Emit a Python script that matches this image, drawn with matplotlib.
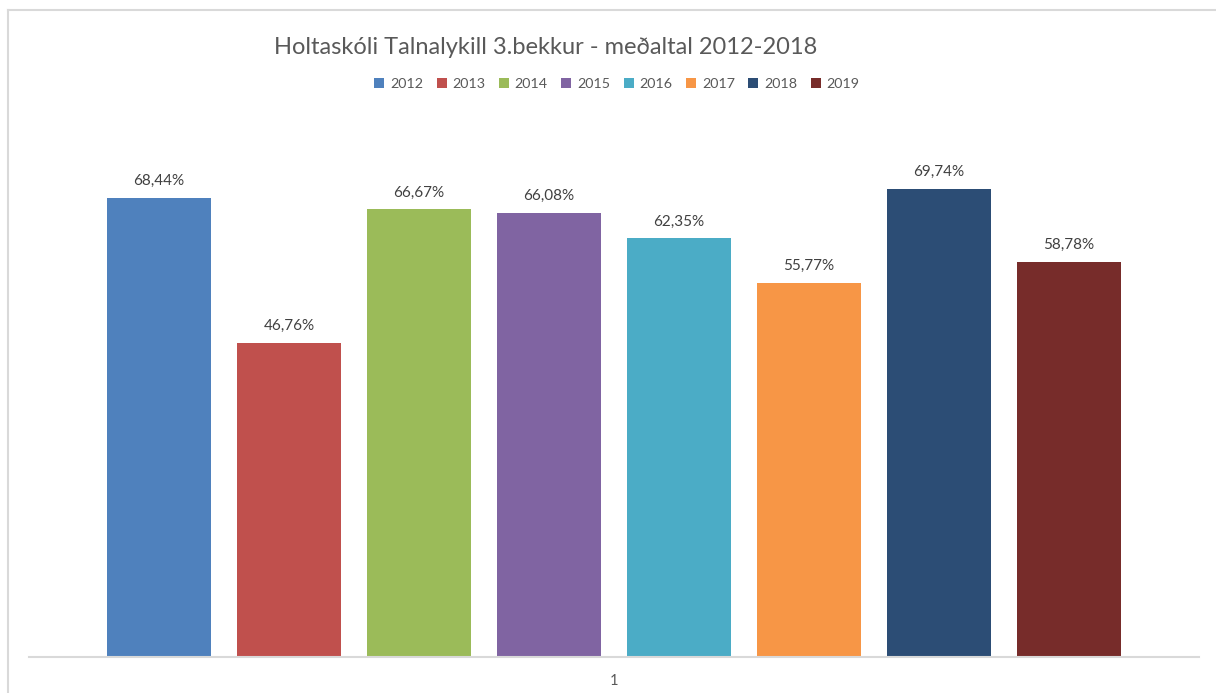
import matplotlib.pyplot as plt
from matplotlib.lines import Line2D

# Data
years = ['2012', '2013', '2014', '2015', '2016', '2017', '2018', '2019']
values = [68.44, 46.76, 66.67, 66.08, 62.35, 55.77, 69.74, 58.78]
colors = ['#4F81BD', '#C0504D', '#9BBB59', '#8064A2', '#4BACC6', '#F79646', '#2C4D75', '#772C2A']

plt.rcParams['font.family'] = ['Lato', 'DejaVu Sans']

W, H = 1216, 693
fig = plt.figure(figsize=(W / 100, H / 100), dpi=100)
ax = fig.add_axes([29 / W, (H - 657) / H, 1170 / W, (657 - 120) / H])

for i, (yr, v, c) in enumerate(zip(years, values, colors)):
    ax.bar(i, v, width=0.8, color=c, label=yr, zorder=2)
    ax.text(i, v + 1.5, f'{v:.2f}%'.replace('.', ','), ha='center', va='bottom',
            fontsize=11, color='#404040')

ax.set_xlim(-1.0, 8.0)
ax.set_ylim(0, 80)
ax.set_yticks([])
ax.set_xticks([3.5])
ax.set_xticklabels(['1'], fontsize=10.5, color='#595959')
ax.tick_params(axis='x', length=0, pad=12)
for s in ['top', 'right', 'left']:
    ax.spines[s].set_visible(False)
ax.spines['bottom'].set_color('#D9D9D9')
ax.spines['bottom'].set_linewidth(1.5)

fig.text(546 / W, 1 - 47 / H, 'Holtaskóli Talnalykill 3.bekkur - meðaltal 2012-2018',
         ha='center', va='center', fontsize=17, color='#595959')

handles, labels = ax.get_legend_handles_labels()
fig.legend(handles, labels, loc='center', bbox_to_anchor=(617 / W, 1 - 84 / H), ncol=8,
           frameon=False, fontsize=10.3, handlelength=0.7, handleheight=0.7,
           handletextpad=0.4, columnspacing=0.95, labelcolor='#595959')

# chart frame
fig.add_artist(Line2D([8 / W, 8 / W], [0, 1 - 10 / H], color='#D9D9D9', lw=1.5))
fig.add_artist(Line2D([8 / W, 1], [1 - 10 / H, 1 - 10 / H], color='#D9D9D9', lw=1.5))

fig.savefig('out.png', dpi=100)
